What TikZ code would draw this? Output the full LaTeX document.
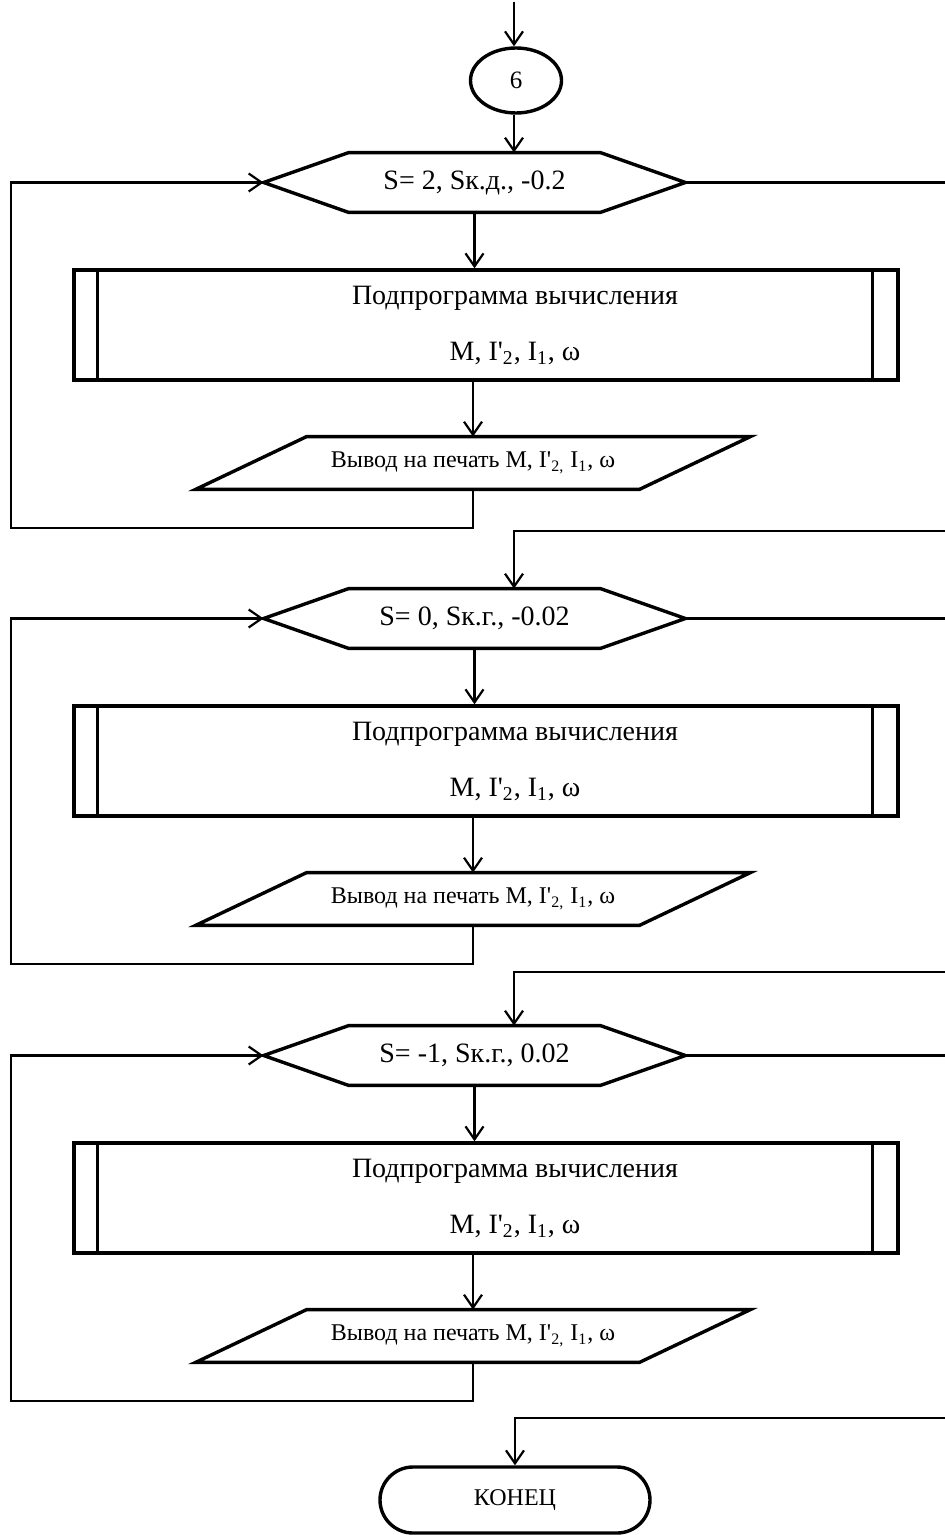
\documentclass[tikz,border=0pt]{standalone}
\usepackage{fontspec}
\setmainfont{Liberation Serif}
\usetikzlibrary{shapes.geometric,shapes.misc,arrows.meta}

\tikzset{
  shapeline/.style={line width=1.7pt, line join=miter},
  link/.style={line width=1.1pt},
  arr/.style={link, -{Straight Barb[length=6.5pt,width=9pt]}},
  startell/.style={ellipse, draw, line width=1.7pt, inner sep=0pt,
    minimum width=45.5pt, minimum height=32.5pt, font=\fontsize{12.5}{14}\selectfont},
  hexbox/.style={minimum width=210.5pt, minimum height=29.5pt, inner sep=0pt,
    font=\fontsize{14}{16}\selectfont,
    append after command={\pgfextra{\draw[shapeline]
      (\tikzlastnode.west) -- ([xshift=42.5pt]\tikzlastnode.north west)
      -- ([xshift=-42.5pt]\tikzlastnode.north east) -- (\tikzlastnode.east)
      -- ([xshift=-42.5pt]\tikzlastnode.south east)
      -- ([xshift=42.5pt]\tikzlastnode.south west) -- cycle;}}},
  subbox/.style={draw, line width=1.7pt, minimum width=412pt, minimum height=55pt,
    append after command={\pgfextra{\draw[shapeline]
      ([xshift=12.5pt]\tikzlastnode.north west) -- ([xshift=12.5pt]\tikzlastnode.south west)
      ([xshift=-13.5pt]\tikzlastnode.north east) -- ([xshift=-13.5pt]\tikzlastnode.south east);}}},
  subtext/.style={align=center, inner sep=0pt, font=\fontsize{14}{28}\selectfont},
  iobox/.style={minimum width=277pt, minimum height=26pt, inner sep=0pt,
    font=\fontsize{12}{14}\selectfont,
    append after command={\pgfextra{\draw[shapeline]
      (\tikzlastnode.south west) -- ([xshift=-55.5pt]\tikzlastnode.south east)
      -- (\tikzlastnode.north east) -- ([xshift=55.5pt]\tikzlastnode.north west) -- cycle;}}},
  endbox/.style={rounded rectangle, draw, line width=1.7pt, inner sep=0pt,
    minimum width=135pt, minimum height=33pt, font=\fontsize{12}{14}\selectfont}
}

\begin{document}
\begin{tikzpicture}[x=0.5pt,y=-0.5pt]
\useasboundingbox (0,0) rectangle (945,1535);
\coordinate (top) at (514,2);
\node[startell] (st) at (516,80.5) {6};
\draw[arr] (top) -- (top |- st.north);
% S = 2
\node[hexbox] (h1) at (474.5,182.5) {S= 2, Sк.д., -0.2};
\node[subbox] (p1) at (486,325) {};
\node[subtext] (p1t) at (515,325) {Подпрограмма вычисления\\M, I\textquotesingle\textsubscript{2}, I\textsubscript{1}, ω};
\node[iobox] (o1) at (473,463) {Вывод на печать M, I\textquotesingle\textsubscript{2,} I\textsubscript{1}, ω};
\coordinate (l1) at (11,528);
\coordinate (x1) at (945,182.5);
\draw[arr] (top |- st.south) -- (top |- h1.north);
\draw[arr] (h1.south) -- (h1.south |- p1.north);
\draw[arr] (p1.south -| o1.north) -- (o1.north);
\draw[arr] (o1.south) |- (l1) |- (h1.west);
\draw[link] (h1.east) -- (x1);
% S = 0
\coordinate (e2) at (945,531);
\node[hexbox] (h2) at (474.5,618.5) {S= 0, Sк.г., -0.02};
\node[subbox] (p2) at (486,761) {};
\node[subtext] (p2t) at (515,761) {Подпрограмма вычисления\\M, I\textquotesingle\textsubscript{2}, I\textsubscript{1}, ω};
\node[iobox] (o2) at (473,899) {Вывод на печать M, I\textquotesingle\textsubscript{2,} I\textsubscript{1}, ω};
\coordinate (l2) at (11,964);
\coordinate (x2) at (945,618.5);
\draw[arr] (e2) -| (top |- h2.north);
\draw[arr] (h2.south) -- (h2.south |- p2.north);
\draw[arr] (p2.south -| o2.north) -- (o2.north);
\draw[arr] (o2.south) |- (l2) |- (h2.west);
\draw[link] (h2.east) -- (x2);
% S = -1
\coordinate (e3) at (945,972);
\node[hexbox] (h3) at (474.5,1055.5) {S= -1, Sк.г., 0.02};
\node[subbox] (p3) at (486,1198) {};
\node[subtext] (p3t) at (515,1198) {Подпрограмма вычисления\\M, I\textquotesingle\textsubscript{2}, I\textsubscript{1}, ω};
\node[iobox] (o3) at (473,1336) {Вывод на печать M, I\textquotesingle\textsubscript{2,} I\textsubscript{1}, ω};
\coordinate (l3) at (11,1401);
\coordinate (x3) at (945,1055.5);
\draw[arr] (e3) -| (top |- h3.north);
\draw[arr] (h3.south) -- (h3.south |- p3.north);
\draw[arr] (p3.south -| o3.north) -- (o3.north);
\draw[arr] (o3.south) |- (l3) |- (h3.west);
\draw[link] (h3.east) -- (x3);
% end
\coordinate (e4) at (945,1418);
\node[endbox] (en) at (515,1500) {КОНЕЦ};
\draw[arr] (e4) -| (en.north);
\end{tikzpicture}
\end{document}
